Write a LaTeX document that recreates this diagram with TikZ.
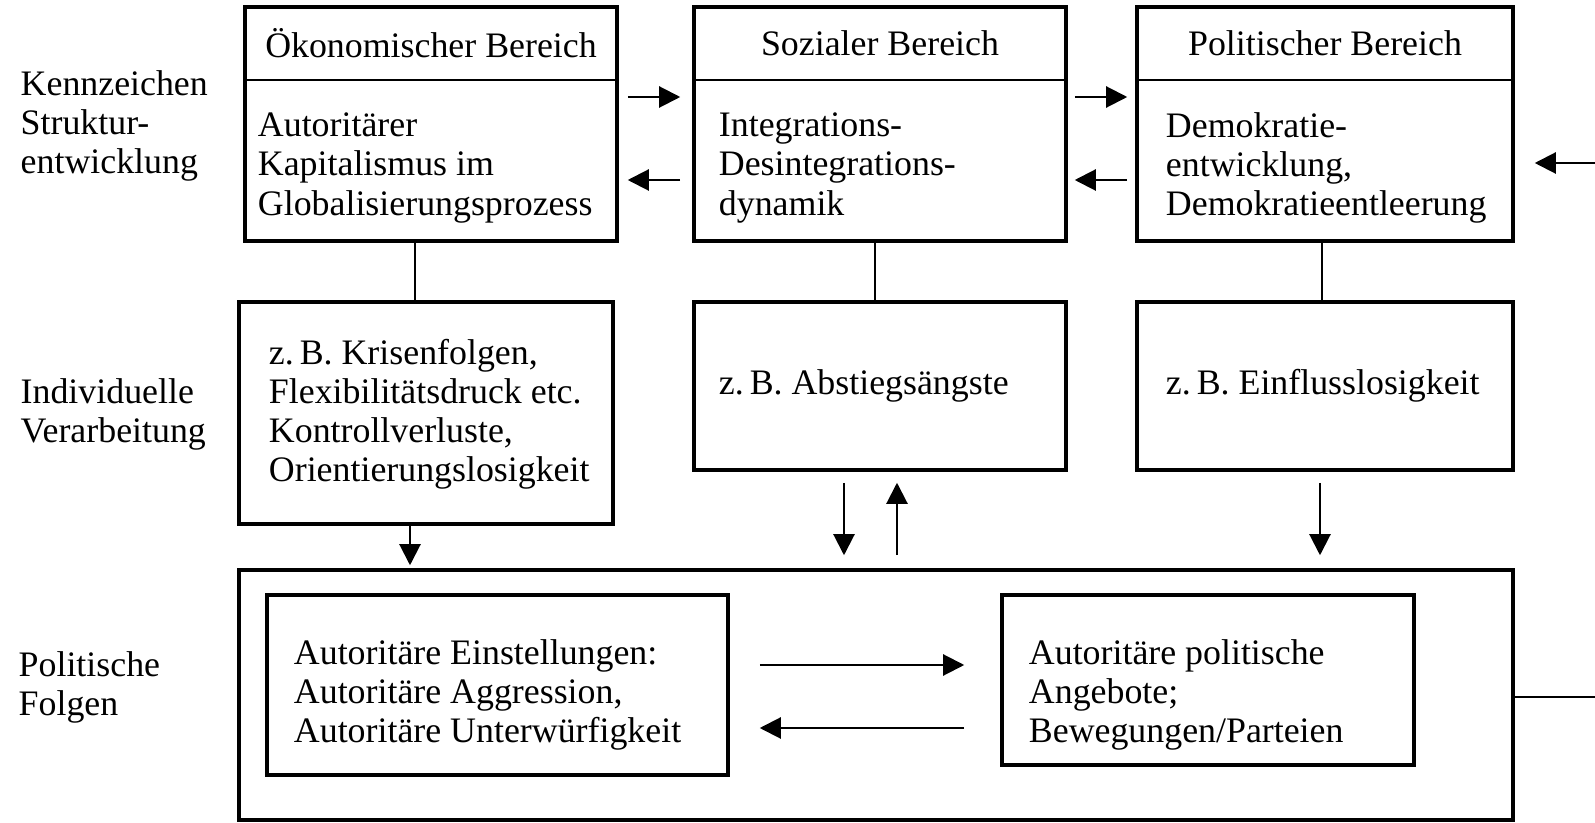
\documentclass[tikz,border=0pt]{standalone}
\usepackage{fontspec}
\setmainfont{Liberation Serif}
\usetikzlibrary{arrows.meta, positioning, calc}

\begin{document}
\begin{tikzpicture}[
    every node/.style={font=\fontsize{10.2pt}{11.1pt}\selectfont},
    areabox/.style={draw, rectangle, line width=1pt, inner sep=0pt}, % Frame of every box
    boxtext/.style={align=left, inner sep=0pt, anchor=west}, % Left aligned text inside a box
    flow/.style={-{Triangle[length=2.1mm, width=2.1mm]}, line width=0.6pt}, % Arrows
    link/.style={line width=0.5pt} % Plain connecting lines
]
    \useasboundingbox (0,0) rectangle (15.95,-8.23);

    % === Row labels ===
    \node[boxtext] (lab_struktur) at (0.20,-1.26) {Kennzeichen\\Struktur-\\entwicklung};
    \node[boxtext] (lab_indiv) at (0.20,-4.14) {Individuelle\\Verarbeitung};
    \node[boxtext] (lab_polit) at (0.18,-6.87) {Politische\\Folgen};

    % ====== TOP ROW: AREAS ======
    \node[areabox, minimum width=3.72cm, minimum height=2.34cm] (oek) at (4.31,-1.24) {};
    \node[areabox, minimum width=3.72cm, minimum height=2.34cm] (soz) at (8.80,-1.24) {};
    \node[areabox, minimum width=3.76cm, minimum height=2.34cm] (pol) at (13.25,-1.24) {};

    % Header lines
    \foreach \b in {oek, soz, pol}
        \draw[link] ($(\b.north west)+(0,-0.75)$) -- ($(\b.north east)+(0,-0.75)$);

    % Headers
    \node (oek_head) at ($(oek.north)+(0,-0.38)$) {Ökonomischer Bereich};
    \node (soz_head) at ($(soz.north)+(0,-0.38)$) {Sozialer Bereich};
    \node (pol_head) at ($(pol.north)+(0,-0.38)$) {Politischer Bereich};

    % Body texts
    \node[boxtext] (oek_body) at ($(oek.west)+(0.14,-0.44)$) {Autoritärer\\Kapitalismus im\\Globalisierungsprozess};
    \node[boxtext] (soz_body) at ($(soz.west)+(0.26,-0.44)$) {Integrations-\\Desintegrations-\\dynamik};
    \node[boxtext] (pol_body) at ($(pol.west)+(0.30,-0.44)$) {Demokratie-\\entwicklung,\\Demokratieentleerung};

    % Arrows between the areas
    \draw[flow, shorten <=0.9mm, shorten >=1.2mm] ($(oek.east)+(0,0.27)$) -- ($(soz.west)+(0,0.27)$);
    \draw[flow, shorten <=1.2mm, shorten >=0.9mm] ($(soz.west)+(0,-0.56)$) -- ($(oek.east)+(0,-0.56)$);
    \draw[flow, shorten <=0.7mm, shorten >=0.8mm] ($(soz.east)+(0,0.27)$) -- ($(pol.west)+(0,0.27)$);
    \draw[flow, shorten <=0.8mm, shorten >=0.7mm] ($(pol.west)+(0,-0.56)$) -- ($(soz.east)+(0,-0.56)$);

    % Feedback from the right
    \coordinate (loop_in) at (15.95,-1.63);
    \draw[flow, shorten >=2mm] (loop_in) -- (loop_in -| pol.east);

    % ====== MIDDLE ROW: INDIVIDUAL PROCESSING ======
    \node[areabox, minimum width=3.74cm, minimum height=2.22cm] (krise) at (4.26,-4.13) {};
    \node[areabox, minimum width=3.72cm, minimum height=1.68cm] (abstieg) at (8.80,-3.86) {};
    \node[areabox, minimum width=3.76cm, minimum height=1.68cm] (einfluss) at (13.25,-3.86) {};

    \node[boxtext] (krise_text) at ($(krise.west)+(0.31,-0.01)$) {z.\,B. Krisenfolgen,\\Flexibilitätsdruck etc.\\Kontrollverluste,\\Orientierungslosigkeit};
    \node[boxtext] (abstieg_text) at ($(abstieg.west)+(0.26,0)$) {z.\,B. Abstiegsängste};
    \node[boxtext] (einfluss_text) at ($(einfluss.west)+(0.30,0)$) {z.\,B. Einflusslosigkeit};

    % Lines from the areas
    \draw[link] ($(oek.south)+(-0.16,0)$) -- ($(krise.north)+(-0.11,0)$);
    \draw[link] ($(soz.south)+(-0.05,0)$) -- ($(abstieg.north)+(-0.05,0)$);
    \draw[link] ($(pol.south)+(-0.03,0)$) -- ($(einfluss.north)+(-0.03,0)$);

    % ====== BOTTOM ROW: POLITICAL CONSEQUENCES ======
    \node[areabox, minimum width=12.74cm, minimum height=2.50cm] (folgen) at (8.76,-6.95) {};
    \node[areabox, minimum width=4.61cm, minimum height=1.80cm] (einst) at (4.975,-6.85) {};
    \node[areabox, minimum width=4.12cm, minimum height=1.70cm] (angebot) at (12.08,-6.80) {};

    \node[boxtext] (einst_text) at ($(einst.west)+(0.28,-0.1)$) {Autoritäre Einstellungen:\\Autoritäre Aggression,\\Autoritäre Unterwürfigkeit};
    \node[boxtext] (angebot_text) at ($(angebot.west)+(0.28,-0.15)$) {Autoritäre politische\\Angebote;\\Bewegungen/Parteien};

    % Arrows down to the consequences
    \draw[flow, shorten >=0.3mm] ($(krise.south)+(-0.16,0)$) -- ($(krise.south |- folgen.north)+(-0.16,0)$);
    \draw[flow, shorten <=1.1mm, shorten >=1.3mm] ($(abstieg.south)+(-0.36,0)$) -- ($(abstieg.south |- folgen.north)+(-0.36,0)$);
    \draw[flow, shorten <=1.3mm, shorten >=1.1mm] ($(abstieg.south |- folgen.north)+(0.17,0)$) -- ($(abstieg.south)+(0.17,0)$);
    \draw[flow, shorten <=1.1mm, shorten >=1.3mm] ($(einfluss.south)+(-0.05,0)$) -- ($(einfluss.south |- folgen.north)+(-0.05,0)$);

    % Arrows between attitudes and offers
    \draw[flow, shorten <=3mm, shorten >=3.6mm] ($(einst.east)+(0,0.2)$) -- ($(einst.east -| angebot.west)+(0,0.2)$);
    \draw[flow, shorten <=3.6mm, shorten >=3mm] ($(einst.east -| angebot.west)+(0,-0.43)$) -- ($(einst.east)+(0,-0.43)$);

    % Feedback to the right
    \coordinate (loop_out) at (15.95,-6.97);
    \draw[link] (loop_out -| folgen.east) -- (loop_out);

\end{tikzpicture}
\end{document}
